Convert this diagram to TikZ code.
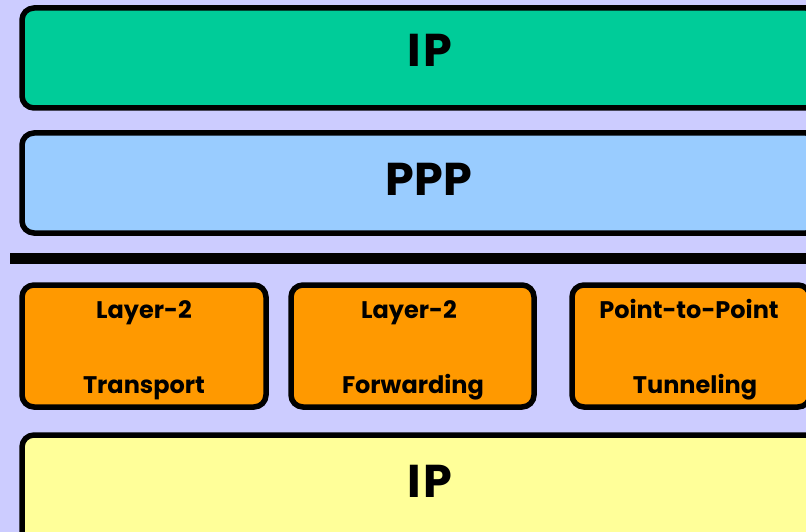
\documentclass[tikz,border=0pt]{standalone}
\usepackage{fontspec}
\setmainfont{Poppins}
\definecolor{bgc}{HTML}{CCCCFF}
\definecolor{ipgreen}{HTML}{00CC99}
\definecolor{pppblue}{HTML}{99CCFF}
\definecolor{l2orange}{HTML}{FF9900}
\definecolor{ipyellow}{HTML}{FFFF99}
\tikzset{
  layerbox/.style={draw=black, line width=5.5pt, rounded corners=12pt},
  biglabel/.style={anchor=base, font=\fontsize{46}{46}\selectfont\bfseries},
  smalllabel/.style={anchor=base, font=\fontsize{24}{24}\selectfont\bfseries},
}
\begin{document}
\begin{tikzpicture}[x=1pt,y=-1pt]
  % canvas
  \fill[bgc] (0,0) rectangle (806,532);
  \useasboundingbox (0,0) rectangle (806,532);
  \begin{scope}
    \clip (0,0) rectangle (806,532);
    % upper layers
    \draw[layerbox, fill=ipgreen] (22,8) rectangle (818,108);
    \draw[layerbox, fill=pppblue] (22,133) rectangle (818,233);
    % separator bar
    \fill[black] (10,253) rectangle (810,264);
    % layer-2 options
    \draw[layerbox, fill=l2orange] (22,285) rectangle (266,407);
    \draw[layerbox, fill=l2orange] (291,285) rectangle (534,407);
    \draw[layerbox, fill=l2orange] (572,285) rectangle (810,407);
    % lower IP
    \draw[layerbox, fill=ipyellow] (22,435) rectangle (818,560);
  \end{scope}
  % labels
  \node[biglabel] (iptop) at (430,67) {I\kern3pt P};
  \node[biglabel] (ppp) at (429,195) {PPP};
  \node[smalllabel] (l2ta) at (144,318) {Layer-2};
  \node[smalllabel] (l2tb) at (144,393) {Transport};
  \node[smalllabel] (l2fa) at (409,318) {Layer-2};
  \node[smalllabel] (l2fb) at (413,393) {Forwarding};
  \node[smalllabel] (p2pa) at (689,318) {Point-to-Point};
  \node[smalllabel] (p2pb) at (695,393) {Tunneling};
  \node[biglabel] (ipbot) at (430,497) {I\kern3pt P};
\end{tikzpicture}
\end{document}
